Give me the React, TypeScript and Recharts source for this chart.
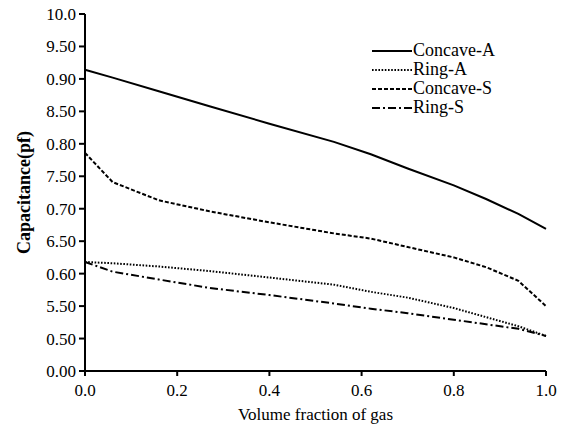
import React from 'react';
import { LineChart, Line, XAxis, YAxis } from 'recharts';

const gasFraction = [0, 0.06, 0.16, 0.27, 0.4, 0.54, 0.62, 0.7, 0.8, 0.87, 0.94, 1.0];
const concaveA = [0.914, 0.902, 0.881, 0.858, 0.831, 0.803, 0.784, 0.762, 0.736, 0.715, 0.692, 0.669];
const ringA = [0.618, 0.616, 0.611, 0.604, 0.594, 0.583, 0.572, 0.563, 0.547, 0.533, 0.519, 0.504];
const concaveS = [0.786, 0.741, 0.713, 0.696, 0.679, 0.662, 0.654, 0.641, 0.625, 0.61, 0.589, 0.55];
const ringS = [0.618, 0.603, 0.591, 0.578, 0.567, 0.554, 0.546, 0.539, 0.529, 0.522, 0.515, 0.504];

const xTicks = [0, 0.2, 0.4, 0.6, 0.8, 1.0];
const yTicks = [0.45, 0.5, 0.55, 0.6, 0.65, 0.7, 0.75, 0.8, 0.85, 0.9, 0.95, 1.0];
const yTickLabels = ['0.00', '0.50', '5.50', '0.60', '6.50', '0.70', '7.50', '0.80', '8.50', '0.90', '9.50', '10.0'];

const seriesNames = ['Concave-A', 'Ring-A', 'Concave-S', 'Ring-S'];
const dashes = ['', '1.6 1.6', '4 2', '8 3 2 3'];

const data = gasFraction.map((x, i) => ({
  x,
  concaveA: concaveA[i],
  ringA: ringA[i],
  concaveS: concaveS[i],
  ringS: ringS[i],
}));

const FONT = 'Liberation Serif, Times New Roman, Times, serif';

const LegendBox = () => (
  <div style={{ position: 'absolute', left: 372, top: 41, fontFamily: FONT, fontSize: 18, color: '#000' }}>
    {seriesNames.map((n, i) => (
      <div key={n} style={{ display: 'flex', alignItems: 'center', height: 19 }}>
        <svg width={40} height={6} style={{ display: 'block' }}>
          <line x1={0} y1={3} x2={40} y2={3} stroke="#000" strokeWidth={2} strokeDasharray={dashes[i] || undefined} />
        </svg>
        <span style={{ marginLeft: 1, lineHeight: '19px' }}>{n}</span>
      </div>
    ))}
  </div>
);

export default function App() {
  return (
    <div style={{ position: 'absolute', left: 0, top: 0, width: 568, height: 428, background: '#fff', fontFamily: FONT }}>
      <LineChart width={568} height={428} data={data} margin={{ top: 14, right: 22, bottom: 0, left: 0 }} style={{ fontFamily: FONT }}>
        <XAxis
          dataKey="x"
          type="number"
          domain={[0, 1]}
          ticks={xTicks}
          tickFormatter={(v: number) => v.toFixed(1)}
          height={57}
          stroke="#000"
          strokeWidth={2}
          tickSize={5}
          tickMargin={8}
          tick={{ fill: '#000', fontSize: 17, fontFamily: FONT }}
          label={{ value: 'Volume fraction of gas', position: 'insideBottom', offset: 8, style: { fill: '#000', fontSize: 17, fontFamily: FONT } }}
        />
        <YAxis
          type="number"
          domain={[0.45, 1.0]}
          ticks={yTicks}
          tickFormatter={(_v: number, i: number) => yTickLabels[i]}
          width={85}
          stroke="#000"
          strokeWidth={2}
          tickSize={6}
          tickMargin={3}
          interval={0}
          tick={{ fill: '#000', fontSize: 17, fontFamily: FONT }}
          label={{ value: 'Capacitance(pf)', angle: -90, position: 'insideLeft', offset: 24, style: { textAnchor: 'middle', fill: '#000', fontSize: 18, fontWeight: 'bold', fontFamily: FONT } }}
        />
        <Line type="linear" dataKey="concaveA" name="Concave-A" stroke="#000" strokeWidth={2} dot={false} isAnimationActive={false} />
        <Line type="linear" dataKey="ringA" name="Ring-A" stroke="#000" strokeWidth={2} strokeDasharray={dashes[1]} dot={false} isAnimationActive={false} />
        <Line type="linear" dataKey="concaveS" name="Concave-S" stroke="#000" strokeWidth={2} strokeDasharray={dashes[2]} dot={false} isAnimationActive={false} />
        <Line type="linear" dataKey="ringS" name="Ring-S" stroke="#000" strokeWidth={2} strokeDasharray={dashes[3]} dot={false} isAnimationActive={false} />
      </LineChart>
      <LegendBox />
    </div>
  );
}
